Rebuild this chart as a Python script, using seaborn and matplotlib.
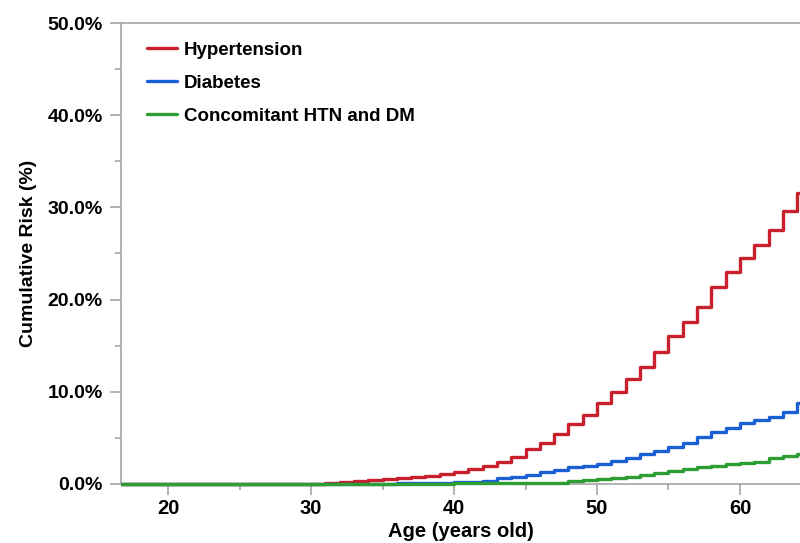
import matplotlib
matplotlib.use("Agg")
import matplotlib.pyplot as plt
from matplotlib.ticker import PercentFormatter, MultipleLocator
from matplotlib.patches import Rectangle
import seaborn as sns
import pandas as pd

ages = list(range(16, 66))

hypertension = [0.0] * 14 + [
    0.05, 0.10, 0.18, 0.28, 0.38, 0.50, 0.62, 0.72, 0.85, 1.08,
    1.34, 1.66, 1.95, 2.42, 2.96, 3.76, 4.48, 5.42, 6.47, 7.48,
    8.75, 10.0, 11.4, 12.7, 14.35, 16.0, 17.6, 19.2, 21.4, 23.0,
    24.5, 25.9, 27.5, 29.6, 31.6, 31.6]

diabetes = [0.0] * 18 + [
    0.03, 0.05, 0.08, 0.10, 0.12, 0.15,
    0.18, 0.25, 0.36, 0.65, 0.80, 0.98, 1.27, 1.52, 1.80, 2.00,
    2.17, 2.50, 2.86, 3.20, 3.60, 4.05, 4.48, 5.06, 5.68, 6.04,
    6.58, 6.94, 7.23, 7.77, 8.75, 8.75]

concomitant = [0.03] * 24 + [0.08] * 8 + [
    0.33, 0.43,
    0.50, 0.61, 0.80, 0.98, 1.16, 1.41, 1.63, 1.80, 2.00, 2.13,
    2.31, 2.42, 2.78, 3.04, 3.25, 3.25]

series_names = ["Hypertension", "Diabetes", "Concomitant HTN and DM"]
series_values = [hypertension, diabetes, concomitant]
colors = ["#C9202E", "#1B5FD4", "#2E9E34"]

rows = []
for name, vals in zip(series_names, series_values):
    for a, v in zip(ages, vals):
        rows.append({"Age": a, "Risk": v, "Group": name})
df = pd.DataFrame(rows)

sns.set_style("white")
plt.rcParams["font.family"] = ["Liberation Sans", "DejaVu Sans"]
plt.rcParams["text.color"] = "black"
plt.rcParams["axes.labelcolor"] = "black"
plt.rcParams["xtick.color"] = "black"
plt.rcParams["ytick.color"] = "black"

fig = plt.figure(figsize=(8.0, 5.43), dpi=100)
ax = fig.add_axes([121 / 800, 1 - 484 / 543, 1 - 121 / 800, (484 - 23) / 543])

sns.lineplot(data=df, x="Age", y="Risk", hue="Group", hue_order=series_names,
             palette=colors, drawstyle="steps-post", linewidth=2.4,
             estimator=None, ax=ax, legend=True)

# let lines at 0 show fully on top of the baseline
clip = Rectangle((0, -0.02), 1, 1.04, transform=ax.transAxes, visible=False)
ax.add_patch(clip)
for ln in ax.get_lines():
    ln.set_clip_path(clip)
    ln.set_zorder(3)

ax.set_xlim(16.7, 64.2)
ax.set_ylim(0, 50)
ax.yaxis.set_major_formatter(PercentFormatter(decimals=1))
ax.yaxis.set_major_locator(MultipleLocator(10))
ax.yaxis.set_minor_locator(MultipleLocator(5))
ax.xaxis.set_major_locator(MultipleLocator(10))
ax.xaxis.set_minor_locator(MultipleLocator(5))

spine_color = "#A6A6A6"
for side in ["left", "bottom", "top"]:
    ax.spines[side].set_visible(True)
    ax.spines[side].set_color(spine_color)
    ax.spines[side].set_linewidth(1.2)
    ax.spines[side].set_zorder(2)
ax.spines["right"].set_visible(False)

ax.tick_params(axis="both", which="major", length=8, width=1.2, color=spine_color,
               direction="out", labelcolor="black")
ax.tick_params(axis="both", which="minor", length=4, width=1.2, color=spine_color,
               direction="out")
ax.tick_params(axis="x", which="major", labelsize=14.5, pad=3)
ax.tick_params(axis="y", which="major", labelsize=14, pad=5)
ax.tick_params(axis="x", which="both", bottom=True, top=False)
ax.tick_params(axis="y", which="both", left=True, right=False)
for lab in ax.get_xticklabels() + ax.get_yticklabels():
    lab.set_fontweight("bold")

ax.set_xlabel("Age (years old)", fontsize=14.5, fontweight="bold", labelpad=3)
ax.set_ylabel("Cumulative Risk (%)", fontsize=14, fontweight="bold", labelpad=8)

leg = ax.legend(loc="upper left", frameon=False, fontsize=13.5,
                bbox_to_anchor=(26 / 679, 0.959), borderaxespad=0, borderpad=0,
                handlelength=1.6, handletextpad=0.38, labelspacing=0.84)
for t in leg.get_texts():
    t.set_fontweight("bold")
    t.set_color("black")
for h in leg.legend_handles:
    h.set_linewidth(2.4)

fig.savefig("out.png", dpi=100)
